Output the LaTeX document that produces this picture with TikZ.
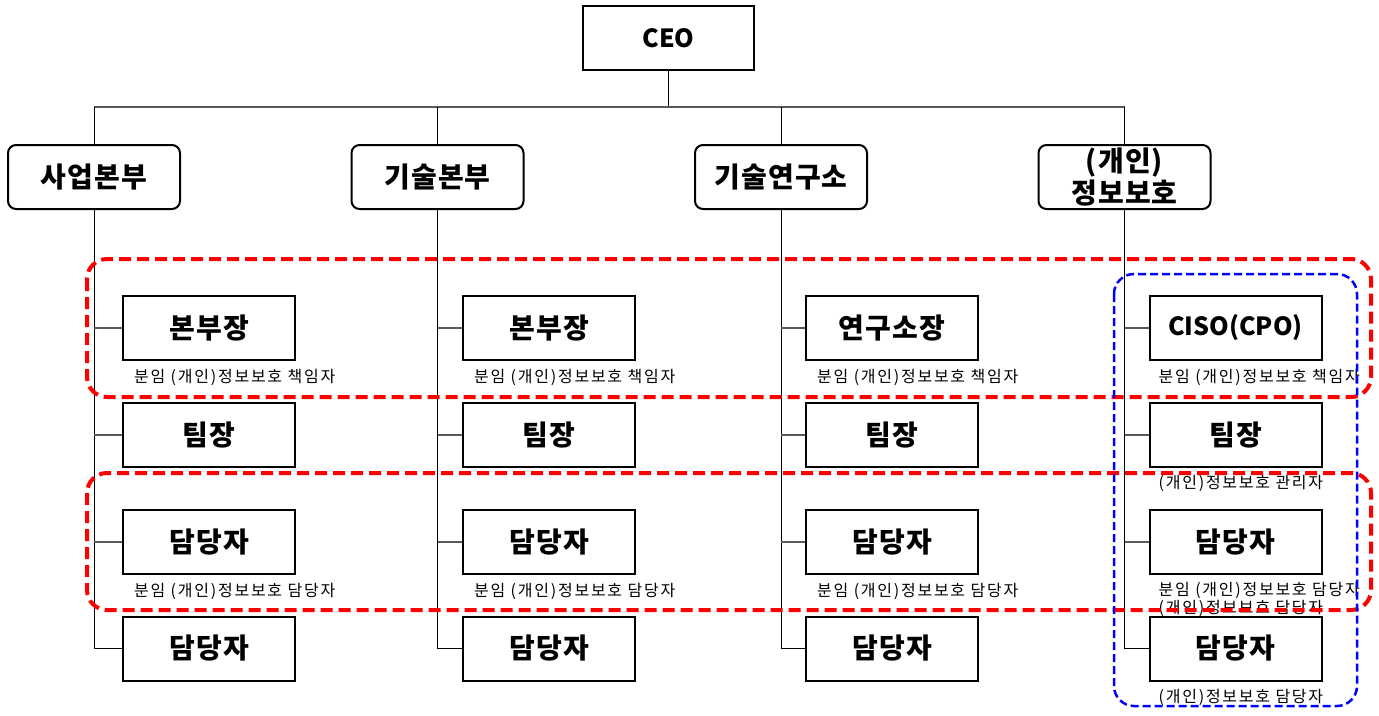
\documentclass[tikz,border=0pt]{standalone}
\usepackage{fontspec}
\setmainfont{Noto Sans CJK KR}
\usetikzlibrary{positioning}

\tikzset{
  boxfont/.style={font=\fontsize{28}{32}\selectfont\bfseries\addfontfeature{LetterSpace=4}},
  latinfont/.style={font=\fontsize{25}{28}\selectfont\bfseries},
  chief/.style={draw, line width=2pt, minimum width=171pt, minimum height=64pt, latinfont},
  unit/.style={draw, line width=2pt, rounded corners=8pt, minimum width=172pt,
    minimum height=64pt, inner sep=0pt, align=center, boxfont},
  member/.style={draw, line width=2pt, minimum width=172pt, minimum height=64pt, boxfont},
  note/.style={inner sep=0pt, align=left,
    font=\fontsize{16}{18}\selectfont\addfontfeature{LetterSpace=11}},
  link/.style={line width=1pt, black},
  stub/.style={line width=1.3pt, black!65},
  redzone/.style={red, line width=4pt, dash pattern=on 12pt off 6pt, rounded corners=20pt},
  bluezone/.style={blue, line width=2.5pt, dash pattern=on 8pt off 4pt, rounded corners=20pt}
}

\begin{document}
\begin{tikzpicture}[x=1pt,y=-1pt]
  \useasboundingbox (0,0) rectangle (1379,715);
  \node[chief] (ceo) at (668.5,38) {CEO};
  \coordinate (bus) at (668.5,107);

  % divisions
  \foreach \c/\x/\t in {1/94/사업본부, 2/437.5/기술본부, 3/781/기술연구소, 4/1124.5/{(개인)\\정보보호}}{%
      \node[unit] (u\c) at (\x,177) {\t};
    }

  % members of each division
  \foreach \c/\x/\h/\f in {1/209/본부장/boxfont, 2/549/본부장/boxfont, 3/892/연구소장/boxfont, 4/1235.5/CISO(CPO)/latinfont}{%
      \node[member, \f] (m\c1) at (\x,328) {\h};
      \node[member] (m\c2) at (\x,435) {팀장};
      \node[member] (m\c3) at (\x,542) {담당자};
      \node[member] (m\c4) at (\x,648.5) {담당자};
    }

  \draw[link, line width=1.5pt] (ceo) -- (bus);
  \draw[stub] (u1.north |- bus) -- (u4.north |- bus);
  \foreach \c in {1,...,4}{%
      \draw[link] (u\c.north |- bus) -- (u\c.north);
      \draw[link] (u\c.south) -- (u\c.south |- m\c4.west) -- (m\c4.west);
      \foreach \r in {1,2,3}{%
          \draw[stub] (u\c.south |- m\c\r.west) -- (m\c\r.west);
        }
    }

  % notes under the boxes
  \foreach \c in {1,2,3}{%
      \node[note, anchor=west] (n\c1) at ([xshift=12pt,yshift=-16pt]m\c1.south west) {분임 (개인)정보보호 책임자};
      \node[note, anchor=west] (n\c3) at ([xshift=12pt,yshift=-16pt]m\c3.south west) {분임 (개인)정보보호 담당자};
    }
  \node[note, anchor=west] (n41) at ([xshift=10pt,yshift=-16pt]m41.south west) {분임 (개인)정보보호 책임자};
  \node[note, anchor=west] (n42) at ([xshift=10pt,yshift=-15pt]m42.south west) {(개인)정보보호 관리자};
  \node[note, anchor=west] (n43) at ([xshift=10pt,yshift=-24pt]m43.south west) {분임 (개인)정보보호 담당자\\(개인)정보보호 담당자};
  \node[note, anchor=west] (n44) at ([xshift=10pt,yshift=-16pt]m44.south west) {(개인)정보보호 담당자};

  % groupings
  \draw[redzone] (87,259) rectangle (1371,397);
  \draw[redzone] (87,473) rectangle (1371,610);
  \draw[bluezone] (1114,274) rectangle (1357,706);
\end{tikzpicture}
\end{document}
